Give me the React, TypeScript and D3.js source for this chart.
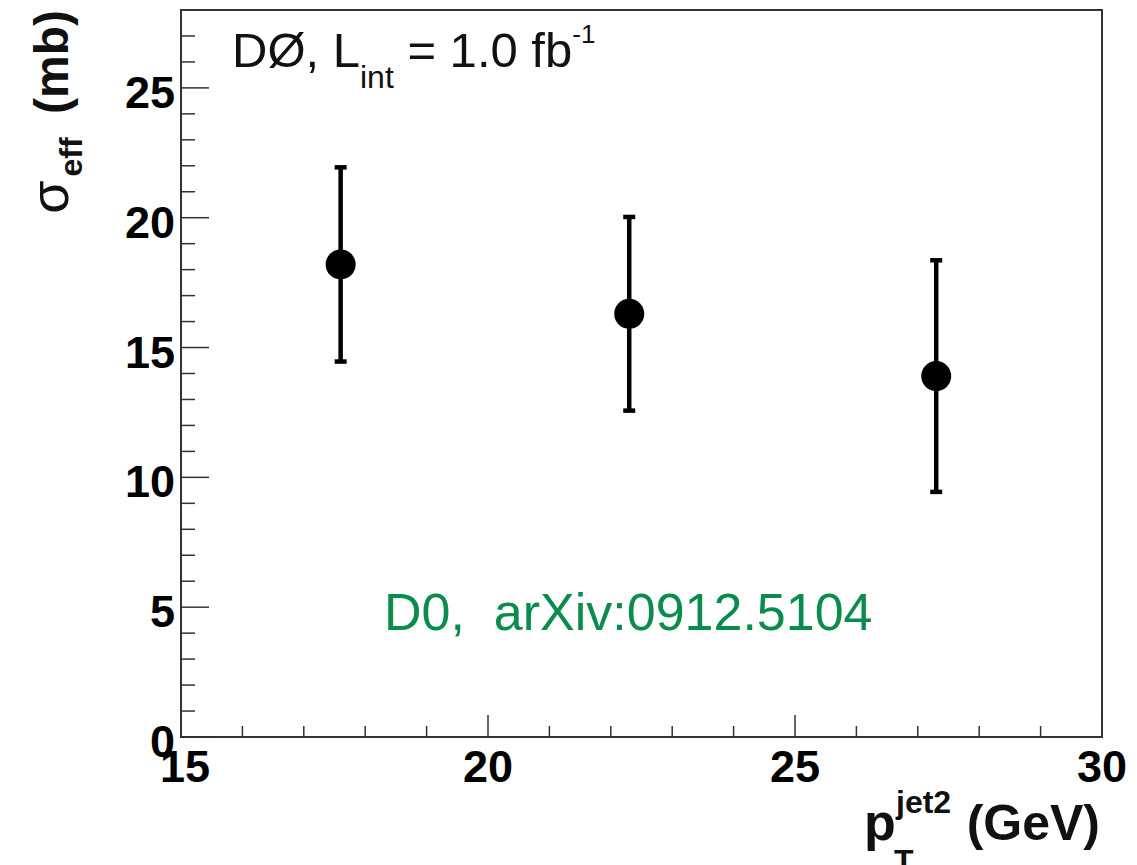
import React, { useEffect, useRef } from "react";
import * as d3 from "d3";

// measured points: pT (jet2) bin centers, sigma_eff and its error
const ptValues = [17.6, 22.3, 27.3];
const sigmaValues = [18.2, 16.3, 13.9];
const sigmaErrors = [3.74, 3.73, 4.46];

const xMajorTicks = [15, 20, 25, 30];
const yMajorTicks = [0, 5, 10, 15, 20, 25];

const W = 1137;
const H = 865;
const FONT = "'Liberation Sans', Arial, Helvetica, sans-serif";

export default function App() {
  const ref = useRef<SVGSVGElement>(null);

  useEffect(() => {
    const svg = d3.select(ref.current);
    svg.selectAll("*").remove();

    const left = 181;
    const right = 1102;
    const top = 10;
    const bottom = 737;

    const x = d3.scaleLinear().domain([15, 30]).range([left, right]);
    const y = d3.scaleLinear().domain([0, 28]).range([bottom, top]);

    const points = ptValues.map((p, i) => ({ x: p, y: sigmaValues[i], e: sigmaErrors[i] }));

    // frame
    svg
      .append("rect")
      .attr("x", left)
      .attr("y", top)
      .attr("width", right - left)
      .attr("height", bottom - top)
      .attr("fill", "none")
      .attr("stroke", "#333")
      .attr("stroke-width", 2);

    // x ticks
    const xMinor = d3.range(15, 30.01, 1);
    svg
      .append("g")
      .selectAll("line")
      .data(xMinor)
      .enter()
      .append("line")
      .attr("x1", d => x(d))
      .attr("x2", d => x(d))
      .attr("y1", bottom)
      .attr("y2", d => bottom - (xMajorTicks.includes(d) ? 22 : 11))
      .attr("stroke", "#333")
      .attr("stroke-width", 1.5);

    svg
      .append("g")
      .selectAll("text")
      .data(xMajorTicks)
      .enter()
      .append("text")
      .attr("x", d => x(d) + (d === 15 ? 4 : 0))
      .attr("y", 782)
      .attr("text-anchor", "middle")
      .attr("font-family", FONT)
      .attr("font-weight", "bold")
      .attr("font-size", 45)
      .text(d => d);

    // y ticks
    const yMinor = d3.range(0, 28, 1);
    svg
      .append("g")
      .selectAll("line")
      .data(yMinor)
      .enter()
      .append("line")
      .attr("x1", left)
      .attr("x2", d => left + (yMajorTicks.includes(d) ? 28 : 14))
      .attr("y1", d => y(d))
      .attr("y2", d => y(d))
      .attr("stroke", "#333")
      .attr("stroke-width", 1.5);

    svg
      .append("g")
      .selectAll("text")
      .data(yMajorTicks)
      .enter()
      .append("text")
      .attr("x", 175)
      .attr("y", d => y(d) + 20)
      .attr("text-anchor", "end")
      .attr("font-family", FONT)
      .attr("font-weight", "bold")
      .attr("font-size", 45)
      .text(d => d);

    // error bars
    const bars = svg.append("g").attr("stroke", "#000").attr("stroke-width", 4.5);
    bars
      .selectAll("line.err")
      .data(points)
      .enter()
      .append("line")
      .attr("class", "err")
      .attr("x1", d => x(d.x))
      .attr("x2", d => x(d.x))
      .attr("y1", d => y(d.y + d.e))
      .attr("y2", d => y(d.y - d.e));
    bars
      .selectAll("line.capTop")
      .data(points)
      .enter()
      .append("line")
      .attr("class", "capTop")
      .attr("x1", d => x(d.x) - 6)
      .attr("x2", d => x(d.x) + 6)
      .attr("y1", d => y(d.y + d.e))
      .attr("y2", d => y(d.y + d.e));
    bars
      .selectAll("line.capBot")
      .data(points)
      .enter()
      .append("line")
      .attr("class", "capBot")
      .attr("x1", d => x(d.x) - 6)
      .attr("x2", d => x(d.x) + 6)
      .attr("y1", d => y(d.y - d.e))
      .attr("y2", d => y(d.y - d.e));

    svg
      .append("g")
      .selectAll("circle")
      .data(points)
      .enter()
      .append("circle")
      .attr("cx", d => x(d.x))
      .attr("cy", d => y(d.y))
      .attr("r", 15)
      .attr("fill", "#000");

    // experiment label
    const lab = svg
      .append("text")
      .attr("x", 232)
      .attr("y", 67)
      .attr("font-family", FONT)
      .attr("font-size", 49)
      .attr("fill", "#111");
    lab.append("tspan").text("DØ, L");
    lab.append("tspan").attr("font-size", 32).attr("dy", 21).text("int");
    lab.append("tspan").attr("dy", -21).text(" = 1.0 fb");
    lab.append("tspan").attr("font-size", 26).attr("dy", -24).text("-1");

    // reference
    svg
      .append("text")
      .attr("x", 384)
      .attr("y", 630)
      .attr("font-family", FONT)
      .attr("font-size", 52)
      .attr("fill", "#0a8c4c")
      .style("white-space", "pre")
      .text("D0,  arXiv:0912.5104");

    // x title
    const xt = svg.append("g").attr("font-family", FONT).attr("font-weight", "bold").attr("fill", "#111");
    xt.append("text").attr("x", 864).attr("y", 840).attr("font-size", 52).text("p");
    xt.append("text").attr("x", 896).attr("y", 813).attr("font-size", 32).text("jet2");
    xt.append("text").attr("x", 894).attr("y", 872).attr("font-size", 32).text("T");
    xt.append("text")
      .attr("x", 1100)
      .attr("y", 840)
      .attr("text-anchor", "end")
      .attr("font-size", 50)
      .text("(GeV)");

    // y title
    const yt = svg
      .append("text")
      .attr("transform", "translate(68,10) rotate(-90)")
      .attr("text-anchor", "end")
      .attr("font-family", FONT)
      .attr("font-size", 48)
      .attr("fill", "#111");
    yt.append("tspan").attr("font-size", 54).text("σ");
    yt.append("tspan").attr("font-size", 32).attr("font-weight", "bold").attr("dx", 4).attr("dy", 14).text("eff");
    yt.append("tspan").attr("font-weight", "bold").attr("dx", 10).attr("dy", -14).text("  (mb)");
  }, []);

  return (
    <svg
      ref={ref}
      width={W}
      height={H}
      style={{ position: "absolute", left: 0, top: 0, background: "#fff" }}
    />
  );
}
